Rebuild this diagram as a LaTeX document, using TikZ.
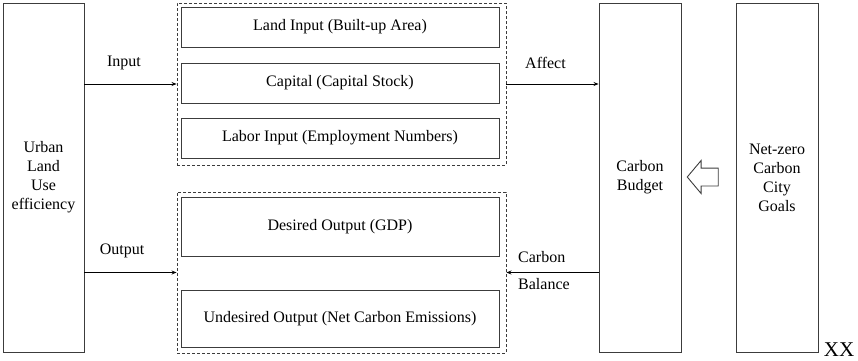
\documentclass[tikz,border=0pt]{standalone}
\usepackage{fontspec}
\setmainfont{Liberation Serif}
\usetikzlibrary{arrows.meta, positioning, shapes.arrows}
\definecolor{boxline}{RGB}{60,60,60}

\begin{document}
\begin{tikzpicture}[x=1pt, y=-1pt, font=\fontsize{16}{19}\selectfont,
		box/.style={draw=boxline, line width=0.9pt, inner sep=0pt, align=center},
		grp/.style={draw=boxline, line width=0.9pt, dash pattern=on 3pt off 2pt, inner sep=0pt},
		arr/.style={-{Stealth[length=5pt, width=4pt]}, line width=0.9pt, black},
		lbl/.style={inner sep=0pt}]
		\useasboundingbox (0,0) rectangle (858,360);
		% left and right columns
		\node[box, minimum width=81, minimum height=349] (ule) at (43.5,177.5) {Urban\\Land\\Use\\efficiency};
		\node[box, minimum width=82, minimum height=349] (budget) at (640,177.5) {Carbon\\Budget};
		\node[box, minimum width=82, minimum height=349] (goals) at (777,177.5) {Net-zero\\Carbon\\City\\Goals};
		% input group
		\node[grp, minimum width=329, minimum height=162] (inbox) at (341.5,84) {};
		\node[box, minimum width=318, minimum height=40] (land) at (340,27) {Land Input (Built-up Area)};
		\node[box, minimum width=318, minimum height=40] (capital) at (340,83) {Capital (Capital Stock)};
		\node[box, minimum width=318, minimum height=40] (labor) at (340,138) {Labor Input (Employment Numbers)};
		% output group
		\node[grp, minimum width=329, minimum height=161] (outbox) at (341.5,272.5) {};
		\node[box, minimum width=318, minimum height=59] (desired) at (340,226.5) {Desired Output (GDP)};
		\node[box, minimum width=318, minimum height=57] (undesired) at (340,318.5) {Undesired Output (Net Carbon Emissions)};
		% hollow arrow
		\node[single arrow, draw=boxline, line width=0.9pt, shape border rotate=180,
		      minimum height=31, minimum width=32, inner sep=0pt, inner ysep=8.5pt,
		      single arrow head extend=7.5pt, single arrow tip angle=100] (goalarrow) at (706.5,177) {};
		% connectors
		\draw[arr] (ule.east |- inbox) -- (inbox.west);
		\draw[arr] (ule.east |- outbox) -- (outbox.west);
		\draw[arr] (inbox.east) -- (budget.west |- inbox);
		\draw[arr] (budget.west |- outbox) -- (outbox.east);
		\node[lbl] (inlbl) at (124,63) {Input};
		\node[lbl] (outlbl) at (122,251) {Output};
		\node[lbl] (afflbl) at (545.5,63) {Affect};
		\node[lbl, anchor=west] (cblbl) at (518,257) {Carbon};
		\node[lbl, anchor=west] (ballbl) at (518,284) {Balance};
		\node[lbl, font=\fontsize{21}{23}\selectfont] (xx) at (839,349.5) {XX};
	\end{tikzpicture}
\end{document}
